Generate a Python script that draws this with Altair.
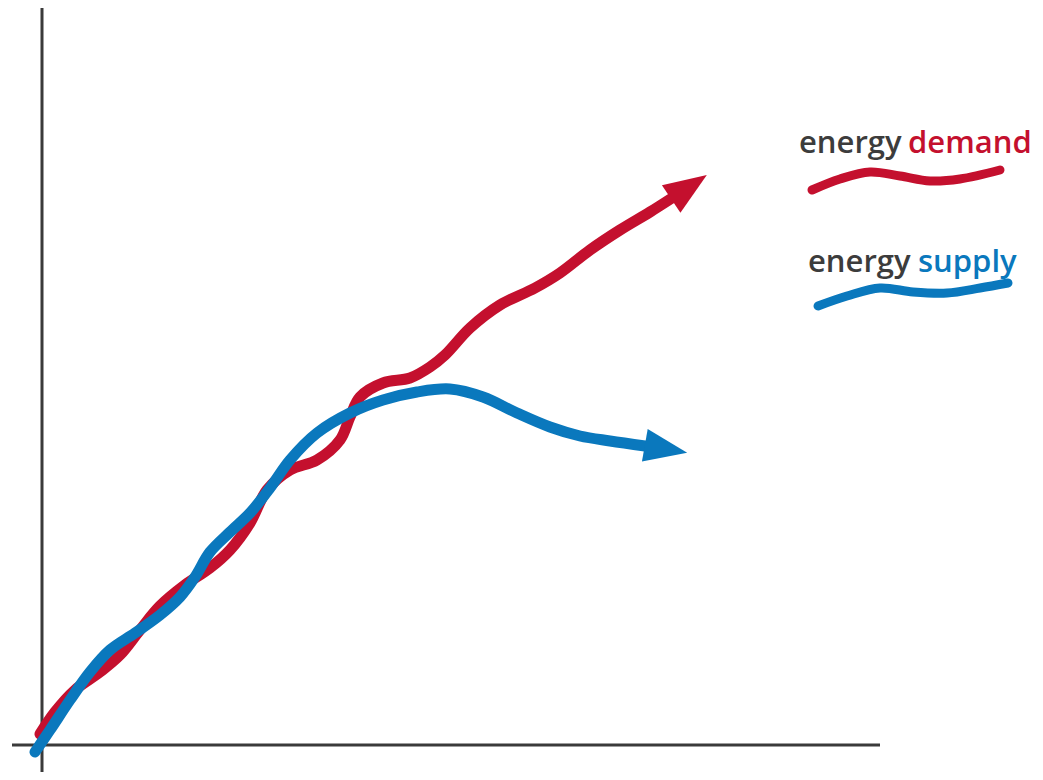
import altair as alt
import pandas as pd

# Conceptual chart: energy demand vs energy supply over time (arbitrary units)
demand_x = [-2, 13, 33, 58, 78, 98, 118, 143, 168, 188, 208, 225, 248, 275, 298, 308, 318, 341, 368, 388, 403, 428, 458, 493, 518, 548, 578, 608, 630]
demand_y = [11, 33, 55, 73, 90, 115, 139, 160, 177, 195, 222, 255, 275, 285, 305, 328, 348, 362, 367, 378, 390, 417, 440, 457, 472, 495, 515, 533, 547]

supply_x = [-7, 8, 28, 48, 68, 93, 118, 138, 153, 168, 188, 208, 228, 248, 275, 308, 341, 375, 408, 441, 475, 508, 538, 568, 603]
supply_y = [-7, 15, 45, 73, 95, 112, 130, 148, 168, 193, 213, 232, 257, 285, 312, 332, 345, 353, 356, 348, 332, 318, 309, 304, 299]

# arrow heads (center position + direction)
head_series = ["demand", "supply"]
head_x = [647, 624]
head_y = [558, 296]
head_angle = [326, 10]

# legend swatches
leg_demand_x = [770, 798, 828, 858, 888, 918, 958]
leg_demand_y = [555, 566, 573, 569, 564, 566, 575]
leg_supply_x = [776, 805, 838, 871, 905, 938, 966]
leg_supply_y = [439, 449, 457, 453, 452, 457, 462]

RED = "#c4102e"
BLUE = "#0a78bd"
GREY = "#3a3a3a"

xs = alt.Scale(domain=[-34, 993], nice=False, zero=False)
ys = alt.Scale(domain=[-27, 737], nice=False, zero=False)

def line_layer(xv, yv, color, width=11):
    df = pd.DataFrame({"x": xv, "y": yv, "o": list(range(len(xv)))})
    return alt.Chart(df).mark_line(
        color=color, strokeWidth=width, interpolate="catmull-rom", strokeCap="round"
    ).encode(
        x=alt.X("x:Q", scale=xs, axis=None),
        y=alt.Y("y:Q", scale=ys, axis=None),
        order="o:Q",
    )

axes_df = pd.DataFrame({
    "x": [0, -30], "x2": [0, 838],
    "y": [-30, 0], "y2": [740, 0],
})
axes = alt.Chart(axes_df).mark_rule(color=GREY, strokeWidth=3).encode(
    x=alt.X("x:Q", scale=xs, axis=None), x2="x2:Q",
    y=alt.Y("y:Q", scale=ys, axis=None), y2="y2:Q",
)

heads_df = pd.DataFrame({"s": head_series, "x": head_x, "y": head_y, "a": head_angle})
heads = alt.Chart(heads_df).mark_point(
    shape="M-1,-0.77L1,0L-1,0.77Z", filled=True, opacity=1, size=1849, strokeWidth=0
).encode(
    x=alt.X("x:Q", scale=xs, axis=None),
    y=alt.Y("y:Q", scale=ys, axis=None),
    angle=alt.Angle("a:Q", scale=None),
    color=alt.Color("s:N", scale=alt.Scale(domain=["demand", "supply"], range=[RED, BLUE]), legend=None),
)

text_df = pd.DataFrame({
    "t": ["energy", "demand", "energy", "supply"],
    "x": [757, 866, 766, 876],
    "y": [592, 592, 473, 473],
    "c": ["g", "demand", "g", "supply"],
})
texts = alt.Chart(text_df).mark_text(
    align="left", baseline="alphabetic", fontSize=31, font="Open Sans", fontWeight=600
).encode(
    x=alt.X("x:Q", scale=xs, axis=None),
    y=alt.Y("y:Q", scale=ys, axis=None),
    text="t:N",
    color=alt.Color("c:N", scale=alt.Scale(domain=["g", "demand", "supply"], range=["#3c3c3c", RED, BLUE]), legend=None),
)

chart = alt.layer(
    axes,
    line_layer(demand_x, demand_y, RED),
    line_layer(supply_x, supply_y, BLUE),
    heads,
    line_layer(leg_demand_x, leg_demand_y, RED, 9),
    line_layer(leg_supply_x, leg_supply_y, BLUE, 9),
    texts,
).resolve_scale(color="independent").properties(
    width=1027, height=764, padding=0, autosize="none",
    background="white",
).configure_view(stroke=None)

chart.save("out.html", embed_options={"renderer": "svg", "actions": False})
